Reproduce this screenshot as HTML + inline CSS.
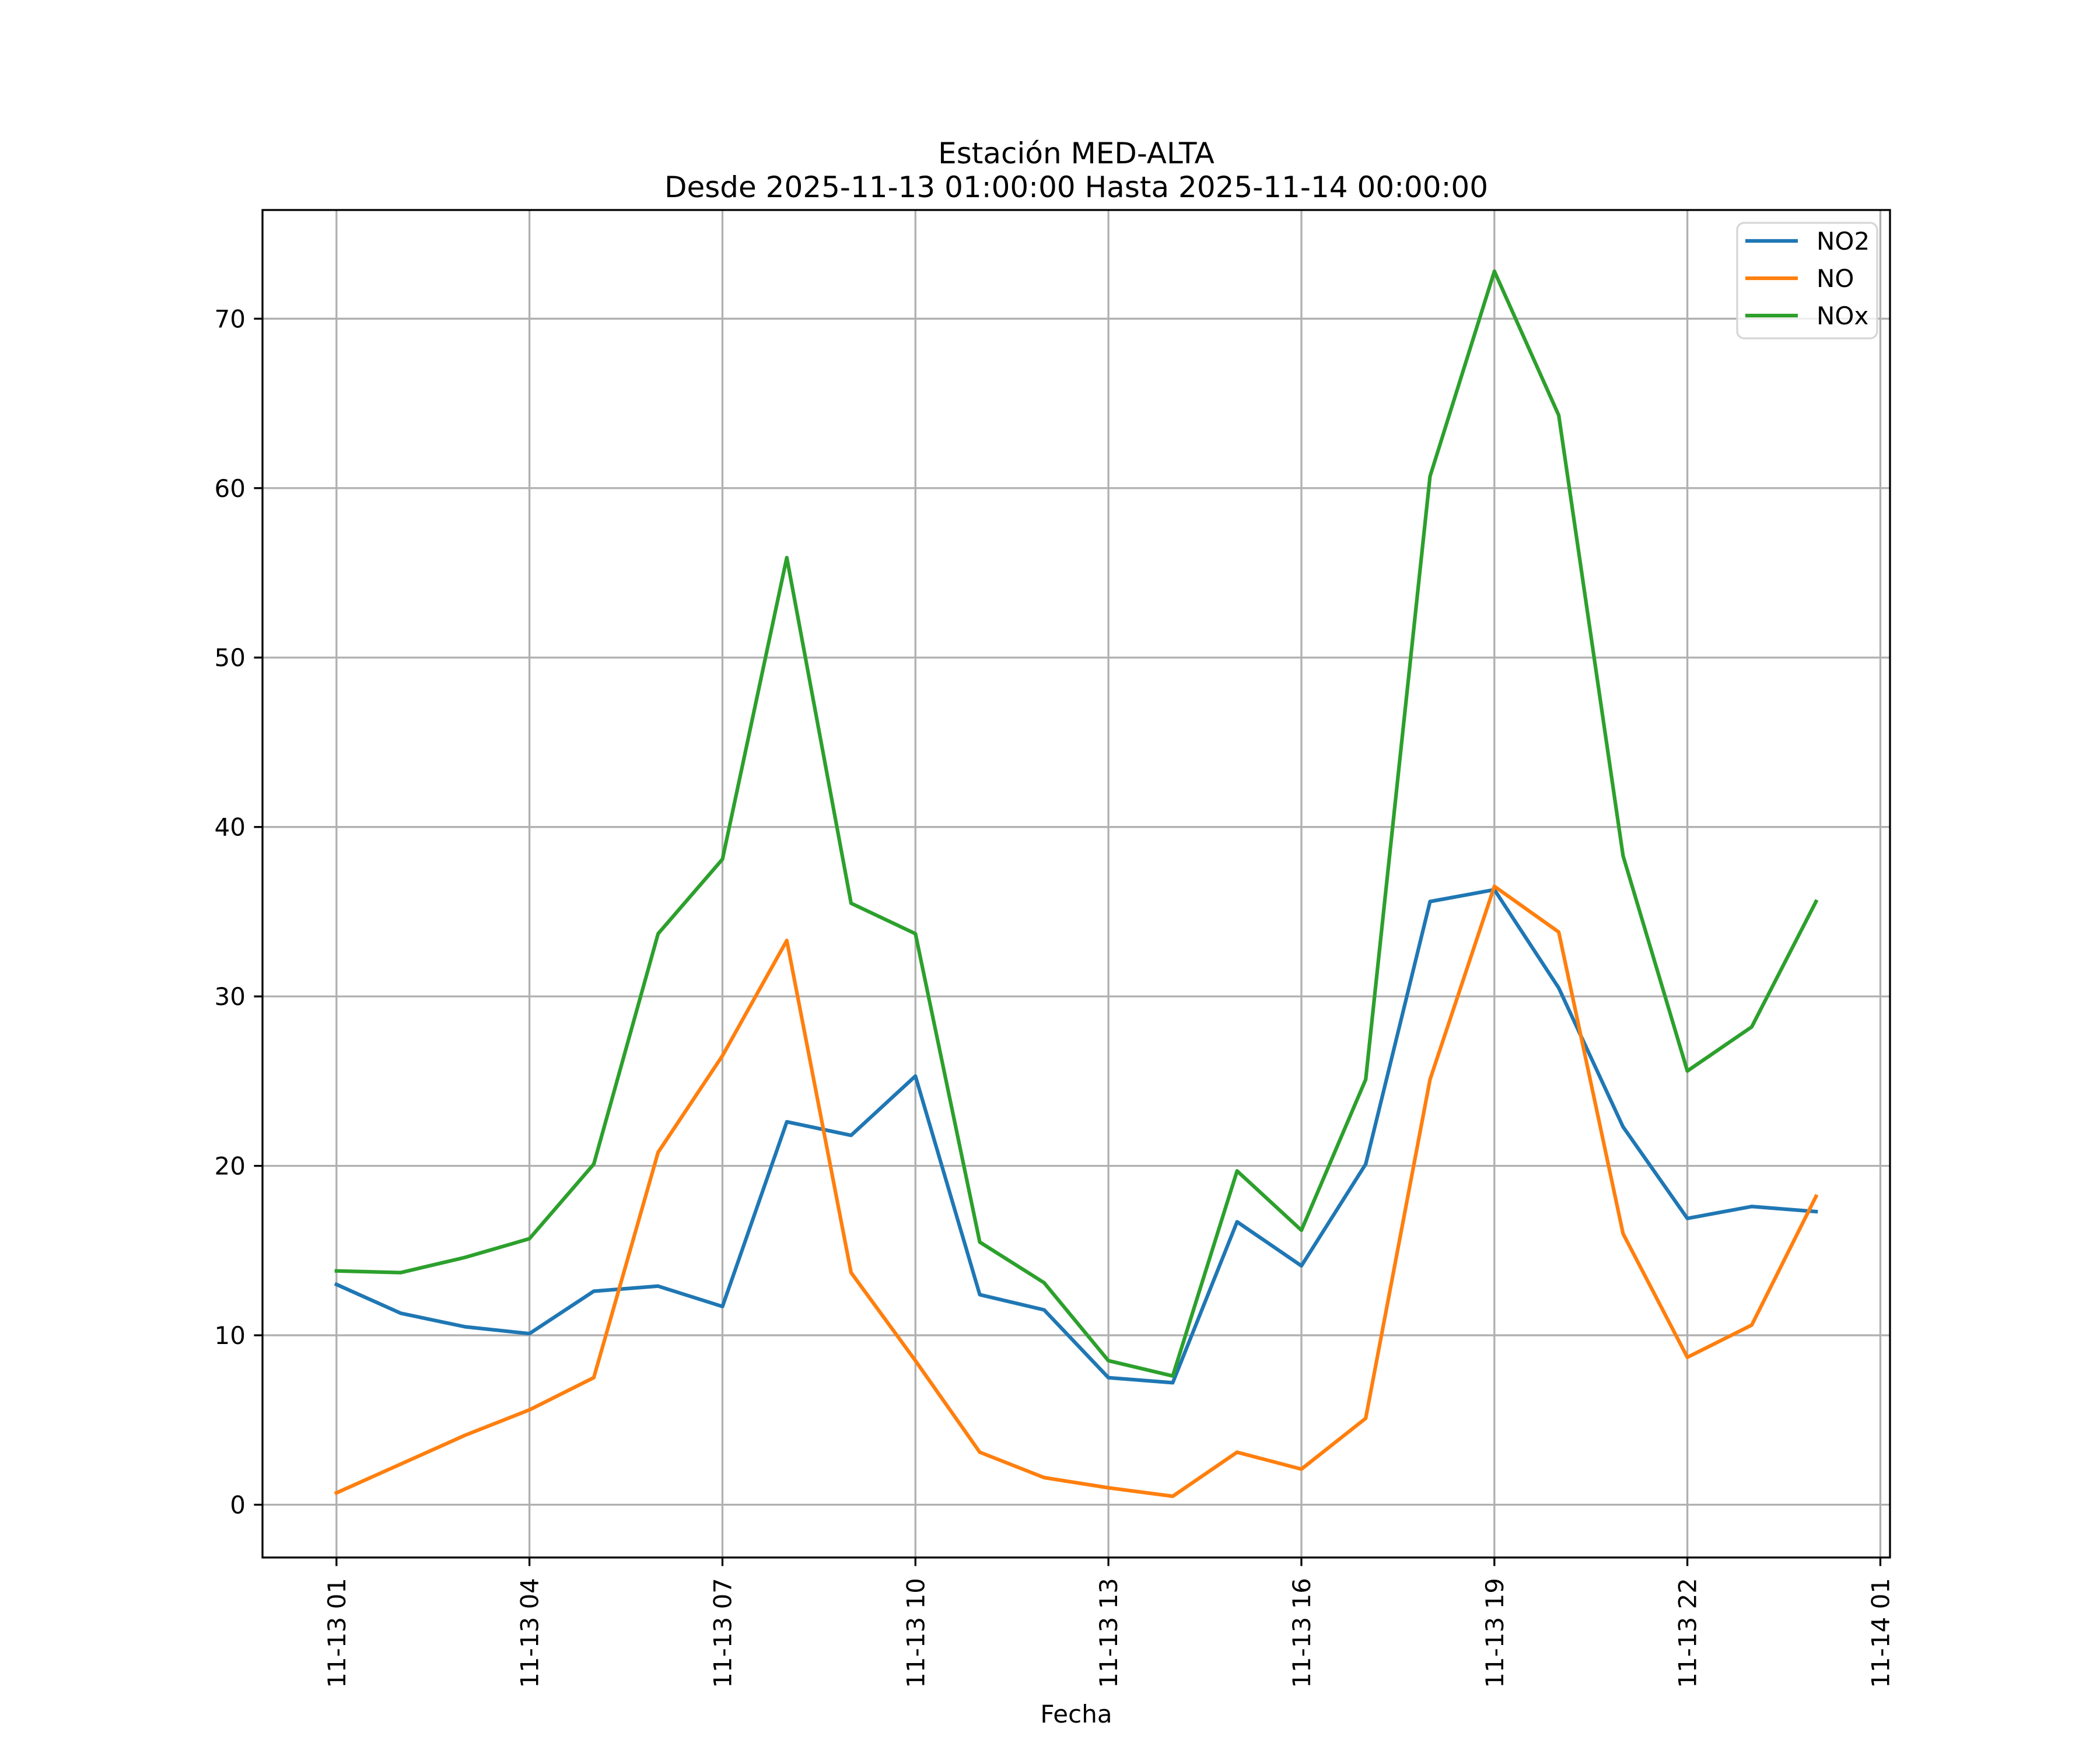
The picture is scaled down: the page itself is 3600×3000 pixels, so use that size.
<!DOCTYPE html>
<html><head><meta charset="utf-8"><style>
html,body{margin:0;padding:0;background:#fff}
svg{display:block}
text{font-family:"DejaVu Sans","Liberation Sans",sans-serif;fill:#000}
</style></head><body>
<svg id="chart" width="3600" height="3000" viewBox="0 0 3600 3000" xmlns="http://www.w3.org/2000/svg">
<rect x="0" y="0" width="3600" height="3000" fill="#fff"/>
<text x="1845" y="280" font-size="50" text-anchor="middle">Estación MED-ALTA</text>
<text x="1845" y="338" font-size="50" text-anchor="middle">Desde 2025-11-13 01:00:00 Hasta 2025-11-14 00:00:00</text>
<g id="grid"></g>
<g id="series"></g>
<g id="axes"></g>
<text x="1845" y="2953" font-size="42" text-anchor="middle">Fecha</text>
<g id="legend"></g>
</svg>
<script>
const hours = [1,2,3,4,5,6,7,8,9,10,11,12,13,14,15,16,17,18,19,20,21,22,23,24];
const no2 = [13.0,11.3,10.5,10.1,12.6,12.9,11.7,22.6,21.8,25.3,12.4,11.5,7.5,7.2,16.7,14.1,20.1,35.6,36.3,30.5,22.3,16.9,17.6,17.3];
const no = [0.7,2.4,4.1,5.6,7.5,20.8,26.5,33.3,13.7,8.5,3.1,1.6,1.0,0.5,3.1,2.1,5.1,25.1,36.5,33.8,16.0,8.7,10.6,18.2];
const nox = [13.8,13.7,14.6,15.7,20.1,33.7,38.1,55.9,35.5,33.7,15.5,13.1,8.5,7.6,19.7,16.2,25.1,60.7,72.8,64.3,38.3,25.6,28.2,35.6];
const seriesNames = ["NO2","NO","NOx"];
const xTickHours = [1,4,7,10,13,16,19,22,25];
const xTickLabels = ["11-13 01","11-13 04","11-13 07","11-13 10","11-13 13","11-13 16","11-13 19","11-13 22","11-14 01"];
const yTicks = [0,10,20,30,40,50,60,70];

const L=450,R=3240,T=360,B=2670;
const NS="http://www.w3.org/2000/svg";
const allVals=no2.concat(no,nox);
const dmin=Math.min(...allVals), dmax=Math.max(...allVals);
const ymin=dmin-0.05*(dmax-dmin), ymax=dmax+0.05*(dmax-dmin);
const h0=hours[0], h1=hours[hours.length-1];
const xmin=h0-0.05*(h1-h0), xmax=h1+0.05*(h1-h0);
const X=h=>L+(h-xmin)/(xmax-xmin)*(R-L);
const Y=v=>B-(v-ymin)/(ymax-ymin)*(B-T);
function mk(tag,attrs,parent){const e=document.createElementNS(NS,tag);for(const k in attrs)e.setAttribute(k,attrs[k]);parent.appendChild(e);return e;}
const grid=document.getElementById('grid'),axes=document.getElementById('axes'),ser=document.getElementById('series'),leg=document.getElementById('legend');
xTickHours.forEach((h,i)=>{
  const x=X(h);
  const g=mk('line',{x1:x,x2:x,y1:T,y2:B,stroke:'#b0b0b0','stroke-width':3.3},grid);
  
  
  const t=mk('line',{x1:x,x2:x,y1:B,y2:B+14.6,stroke:'#000','stroke-width':3.3},axes);
  
  
  const lb=mk('text',{x:0,y:0,'font-size':42,'text-anchor':'end',transform:`translate(${x+15},${B+35}) rotate(-90)`},axes);
  lb.textContent=xTickLabels[i];
  
  
});
yTicks.forEach(v=>{
  const y=Y(v);
  const g=mk('line',{x1:L,x2:R,y1:y,y2:y,stroke:'#b0b0b0','stroke-width':3.3},grid);
  
  
  const t=mk('line',{x1:L-14.6,x2:L,y1:y,y2:y,stroke:'#000','stroke-width':3.3},axes);
  
  
  const lb=mk('text',{x:L-29,y:y+15,'font-size':42,'text-anchor':'end'},axes);
  lb.textContent=String(v);
  
  
});
const frame=mk('rect',{x:L,y:T,width:R-L,height:B-T,fill:'none',stroke:'#000','stroke-width':3.3},axes);


const colors=['#1f77b4','#ff7f0e','#2ca02c'];
[no2,no,nox].forEach((arr,i)=>{
  const pts=arr.map((v,j)=>X(hours[j]).toFixed(1)+','+Y(v).toFixed(1)).join(' ');
  const p=mk('polyline',{points:pts,fill:'none',stroke:colors[i],'stroke-width':6.25,'stroke-linejoin':'round','stroke-linecap':'square'},ser);
  
  
});
const box=mk('rect',{x:2978,y:382,width:240,height:198,rx:12,fill:'#fff','fill-opacity':0.8,stroke:'#d6d6d6','stroke-width':3.3},leg);


seriesNames.forEach((n,i)=>{
  const y=413+i*64;
  const l=mk('line',{x1:2992,x2:3082,y1:y,y2:y,stroke:colors[i],'stroke-width':6.25},leg);
  
  
  const t=mk('text',{x:3114,y:y+15,'font-size':42},leg);
  t.textContent=n;
  
  
});
</script>
</body></html>
